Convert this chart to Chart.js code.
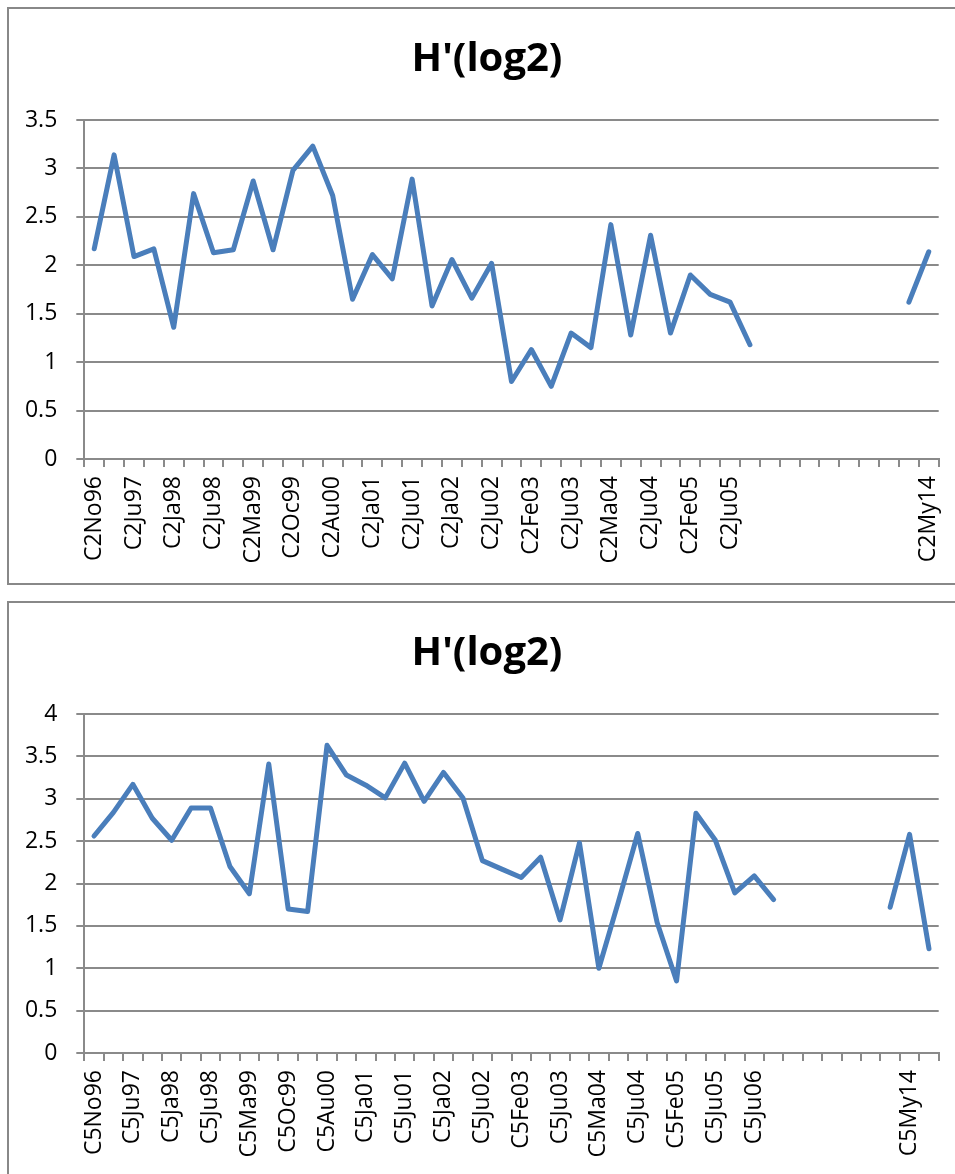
<!DOCTYPE html>
<html>
<head>
<meta charset="utf-8">
<script src="https://cdn.jsdelivr.net/npm/chart.js@4.4.1/dist/chart.umd.min.js"></script>
<style>
  html, body { margin: 0; padding: 0; background: #fff; overflow: hidden; }
  body { width: 955px; height: 1174px; position: relative; }
  canvas { position: absolute; left: 0; }
  .box { position: absolute; left: 7px; width: 1000px; border: 2px solid #888; box-sizing: border-box; pointer-events: none; }
</style>
</head>
<body>
<div class="box" style="top:7px; height:578px;"></div>
<div class="box" style="top:601px; height:700px;"></div>
<canvas id="chartC2" style="top:0px;"></canvas>
<canvas id="chartC5" style="top:594px;"></canvas>
<script>
// Station C2 - Shannon diversity (log2)
const c2Labels = ['C2No96', '', 'C2Ju97', '', 'C2Ja98', '', 'C2Ju98', '', 'C2Ma99', '', 'C2Oc99', '',
    'C2Au00', '', 'C2Ja01', '', 'C2Ju01', '', 'C2Ja02', '', 'C2Ju02', '', 'C2Fe03', '', 'C2Ju03', '',
    'C2Ma04', '', 'C2Ju04', '', 'C2Fe05', '', 'C2Ju05', '', '', '', '', '', '', '', '', '', 'C2My14'];
const c2Values = [2.17, 3.14, 2.09, 2.17, 1.36, 2.74, 2.13, 2.16, 2.87, 2.16, 2.98, 3.23,
    2.72, 1.65, 2.11, 1.86, 2.89, 1.58, 2.06, 1.66, 2.02, 0.80, 1.13, 0.75, 1.30, 1.15,
    2.42, 1.28, 2.31, 1.30, 1.90, 1.70, 1.62, 1.18, null, null, null, null, null, null, null, 1.62, 2.14];
const c2Max = 3.5;

// Station C5 - Shannon diversity (log2)
const c5Labels = ['C5No96', '', 'C5Ju97', '', 'C5Ja98', '', 'C5Ju98', '', 'C5Ma99', '', 'C5Oc99', '',
    'C5Au00', '', 'C5Ja01', '', 'C5Ju01', '', 'C5Ja02', '', 'C5Ju02', '', 'C5Fe03', '', 'C5Ju03', '',
    'C5Ma04', '', 'C5Ju04', '', 'C5Fe05', '', 'C5Ju05', '', 'C5Ju06', '', '', '', '', '', '', '', 'C5My14', ''];
const c5Values = [2.56, 2.84, 3.17, 2.77, 2.51, 2.89, 2.89, 2.20, 1.88, 3.41, 1.70, 1.67,
    3.63, 3.28, 3.16, 3.01, 3.42, 2.97, 3.31, 3.01, 2.27, 2.17, 2.07, 2.31, 1.57, 2.48,
    1.00, 1.78, 2.59, 1.54, 0.85, 2.83, 2.51, 1.89, 2.09, 1.81, null, null, null, null, null, 1.72, 2.58, 1.23];
const c5Max = 4;

const titleText = "H'(log2)";
const gridColor = '#8a8a8a';
const fontFamily = "'Open Sans', 'Noto Sans', sans-serif";

// centre the title on the framed box, not on the plot
const titleShift = {
    id: 'titleShift',
    afterLayout(chart) {
        if (chart.titleBlock) chart.titleBlock.left = 35.3;
    }
};

function makeChart(id, labels, values, yMax) {
    const canvas = document.getElementById(id);
    const W = 974, H = 590;
    canvas.width = W;
    canvas.height = H;
    canvas.style.width = W + 'px';
    canvas.style.height = H + 'px';

    return new Chart(canvas, {
        type: 'line',
        data: {
            labels: labels,
            datasets: [{
                label: titleText,
                data: values,
                borderColor: '#4a7ebb',
                borderWidth: 5,
                borderJoinStyle: 'round',
                borderCapStyle: 'round',
                pointRadius: 0,
                tension: 0,
                spanGaps: false
            }]
        },
        options: {
            responsive: false,
            animation: false,
            devicePixelRatio: 1,
            layout: { padding: { left: 0, right: W - 938.7, top: 0, bottom: 0 } },
            plugins: {
                legend: { display: false },
                tooltip: { enabled: false },
                title: {
                    display: true,
                    text: titleText,
                    color: '#000',
                    font: { family: fontFamily, size: 40, weight: 'bold', lineHeight: 1.2 },
                    padding: { top: 36, bottom: 36 }
                }
            },
            scales: {
                x: {
                    offset: true,
                    grid: {
                        offset: true,
                        drawOnChartArea: false,
                        drawTicks: true,
                        tickLength: 8,
                        color: gridColor,
                        lineWidth: 2
                    },
                    border: { display: true, color: gridColor, width: 2 },
                    ticks: {
                        autoSkip: false,
                        minRotation: 90,
                        maxRotation: 90,
                        padding: 9,
                        color: '#000',
                        font: { family: fontFamily, size: 23 }
                    },
                    afterFit: (scale) => { scale.height = H - 459; }
                },
                y: {
                    min: 0,
                    max: yMax,
                    ticks: {
                        stepSize: 0.5,
                        padding: 19,
                        color: '#000',
                        font: { family: fontFamily, size: 23 },
                        callback: (v) => String(+v.toFixed(2))
                    },
                    grid: {
                        color: gridColor,
                        lineWidth: 2,
                        tickLength: 8
                    },
                    border: { display: true, color: gridColor, width: 2 },
                    afterFit: (scale) => { scale.width = 84.3; }
                }
            }
        },
        plugins: [titleShift]
    });
}

makeChart('chartC2', c2Labels, c2Values, c2Max);
makeChart('chartC5', c5Labels, c5Values, c5Max);
</script>
</body>
</html>
